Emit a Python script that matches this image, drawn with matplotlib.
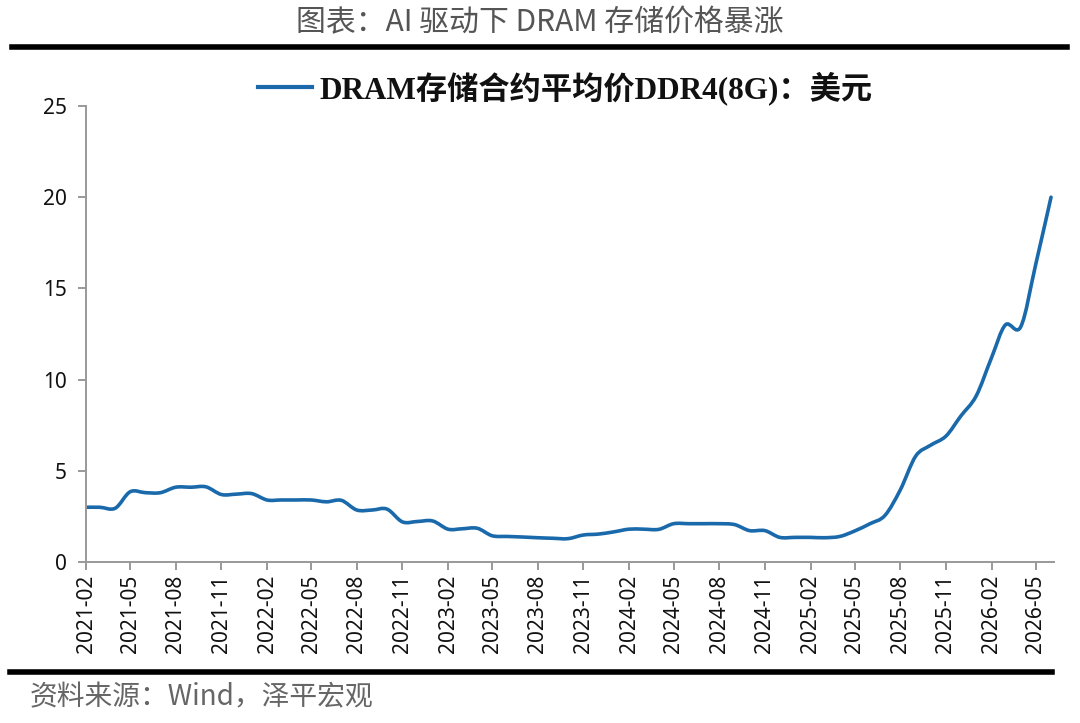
import matplotlib
matplotlib.use("Agg")
import matplotlib.pyplot as plt
import matplotlib.dates as mdates
import pandas as pd
import numpy as np
from matplotlib.lines import Line2D
from matplotlib.path import Path
from matplotlib.patches import PathPatch

plt.rcParams['font.family'] = ['Noto Sans', 'Noto Sans CJK SC', 'DejaVu Sans']

# ---- data ----
start_month = "2021-02-01"
prices = [3.0, 3.0, 2.95, 3.85, 3.8, 3.8, 4.1, 4.1, 4.12, 3.7,
          3.72, 3.75, 3.4, 3.4, 3.4, 3.4, 3.3, 3.38, 2.85, 2.85,
          2.9, 2.2, 2.22, 2.25, 1.8, 1.82, 1.85, 1.44, 1.4, 1.37,
          1.33, 1.3, 1.28, 1.48, 1.53, 1.65, 1.8, 1.8, 1.79, 2.1,
          2.1, 2.1, 2.1, 2.05, 1.72, 1.72, 1.35, 1.35, 1.35, 1.33,
          1.4, 1.7, 2.1, 2.55, 3.95, 5.8, 6.4, 6.9, 8.0, 9.1,
          11.2, 13.0, 12.9, 16.3, 20.0]
dates = pd.date_range(start_month, periods=len(prices), freq="MS")
tick_dates = pd.date_range("2021-02-01", "2026-05-01", freq="3MS")
tick_labels = [d.strftime("%Y-%m") for d in tick_dates]
y_ticks = [0, 5, 10, 15, 20, 25]
series_name = "DRAM存储合约平均价DDR4(8G)：美元"
title = "图表：AI 驱动下 DRAM 存储价格暴涨"
source = "资料来源：Wind，泽平宏观"

# ---- figure ----
fig = plt.figure(figsize=(10.8, 7.23), dpi=100)
ax = fig.add_axes([86/1080, 1-562/723, (1054-86)/1080, (562-106)/723])

line_color = "#1a6aab"

# smoothed line (Excel-style Bezier through the data points)
xs = mdates.date2num(dates.to_pydatetime())
ys = np.asarray(prices, dtype=float)
verts = [(xs[0], ys[0])]
codes = [Path.MOVETO]
n = len(xs)
for i in range(n - 1):
    x0, y0 = (xs[i - 1], ys[i - 1]) if i > 0 else (xs[i], ys[i])
    x1, y1 = xs[i], ys[i]
    x2, y2 = xs[i + 1], ys[i + 1]
    x3, y3 = (xs[i + 2], ys[i + 2]) if i + 2 < n else (xs[i + 1], ys[i + 1])
    c1 = (x1 + (x2 - x0) / 6.0, y1 + (y2 - y0) / 6.0)
    c2 = (x2 - (x3 - x1) / 6.0, y2 - (y3 - y1) / 6.0)
    verts += [c1, c2, (x2, y2)]
    codes += [Path.CURVE4, Path.CURVE4, Path.CURVE4]
ax.add_patch(PathPatch(Path(verts, codes), facecolor='none',
                       edgecolor=line_color, lw=2.6, capstyle='round',
                       joinstyle='round'))

ax.set_ylim(0, 25)
ax.set_yticks(y_ticks)
ax.set_xlim(dates[0], dates[-1] + pd.Timedelta(days=6))
ax.set_xticks(tick_dates)
ax.set_xticklabels(tick_labels, rotation=90)

for s in ['top', 'right']:
    ax.spines[s].set_visible(False)
for s in ['left', 'bottom']:
    ax.spines[s].set_color('#999999')
    ax.spines[s].set_linewidth(1.4)
ax.tick_params(axis='both', direction='out', length=6, width=1.4,
               color='#999999', labelsize=15, labelcolor='#111111')
ax.tick_params(axis='x', pad=3)
ax.tick_params(axis='y', pad=8)

# title
fig.text(0.5, 1-23/723, title, ha='center', va='center', fontsize=21.5,
         color='#555555', family=['Noto Sans CJK SC', 'DejaVu Sans'],
         fontweight='light')
fig.add_artist(Line2D([12/1080, 1067/1080], [1-47/723, 1-47/723],
                      color='black', lw=4, transform=fig.transFigure))

# legend
fig.add_artist(Line2D([258/1080, 312/1080], [1-87/723, 1-87/723],
                      color=line_color, lw=3, transform=fig.transFigure))
fig.text(319/1080, 1-88/723, series_name, ha='left', va='center',
         fontsize=22.5, fontweight='bold', color='#111111',
         family=['Liberation Serif', 'Noto Sans CJK SC'])

# bottom line and source
fig.add_artist(Line2D([10/1080, 1052/1080], [1-672/723, 1-672/723],
                      color='black', lw=4, transform=fig.transFigure))
fig.text(30/1080, 1-697/723, source, ha='left', va='center', fontsize=20,
         color='#666666', style='italic',
         family=['Noto Sans CJK SC', 'DejaVu Sans'])

fig.savefig("out.png", dpi=100)
